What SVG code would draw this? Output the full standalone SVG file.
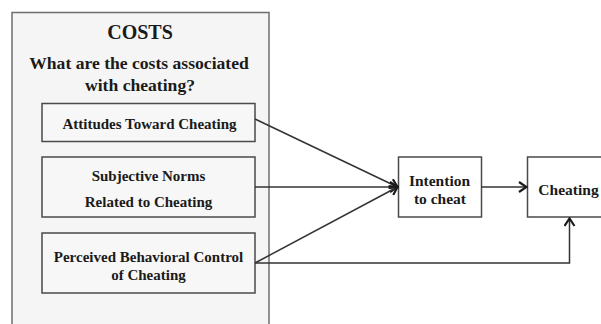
<svg xmlns="http://www.w3.org/2000/svg" width="601" height="324" viewBox="0 0 601 324">
  <style>
    .outer { fill: #f5f5f5; stroke: #6e6e6e; stroke-width: 1.5; }
    .box { fill: #f7f7f7; stroke: #4a4a4a; stroke-width: 1.5; }
    .wbox { fill: #ffffff; stroke: #4a4a4a; stroke-width: 1.5; }
    .t { font-family: "Liberation Serif", "Times New Roman", serif; font-weight: bold; fill: #1a1a1a; text-anchor: middle; dominant-baseline: central; }
    .conn { fill: none; stroke: #333333; stroke-width: 1.5; }
  </style>
  <defs>
    <marker id="arrow" viewBox="0 0 12 12" refX="10.5" refY="6" markerWidth="12" markerHeight="12" markerUnits="userSpaceOnUse" orient="auto">
      <path d="M3,1 L10.5,6 L3,11" fill="none" stroke="#1a1a1a" stroke-width="2.2" stroke-linejoin="miter"/>
    </marker>
  </defs>
  <rect width="601" height="324" fill="#ffffff"/>

  <g id="costs">
    <rect class="outer" x="12" y="12.5" width="257" height="320"/>
    <text class="t" x="140" y="31.5" font-size="20">COSTS</text>
    <text class="t" x="139" y="63" font-size="17.6">What are the costs associated</text>
    <text class="t" x="140" y="85" font-size="17.6">with cheating?</text>
  </g>

  <g id="attitudes">
    <rect class="box" x="42" y="103.5" width="213" height="38"/>
    <text class="t" x="149.5" y="124" font-size="15">Attitudes Toward Cheating</text>
  </g>

  <g id="norms">
    <rect class="box" x="42" y="157" width="213" height="60"/>
    <text class="t" x="148.5" y="176" font-size="15">Subjective Norms</text>
    <text class="t" x="148.5" y="202" font-size="15">Related to Cheating</text>
  </g>

  <g id="control">
    <rect class="box" x="42" y="233" width="213" height="60"/>
    <text class="t" x="148.5" y="257" font-size="15">Perceived Behavioral Control</text>
    <text class="t" x="148.5" y="275" font-size="15">of Cheating</text>
  </g>

  <g id="intention">
    <rect class="wbox" x="398.5" y="157" width="83" height="60"/>
    <text class="t" x="439.5" y="180" font-size="15.5">Intention</text>
    <text class="t" x="440" y="198" font-size="15.5">to cheat</text>
  </g>

  <g id="cheating">
    <rect class="wbox" x="527.5" y="157" width="80" height="60"/>
    <text class="t" x="568.5" y="189" font-size="15.5">Cheating</text>
  </g>

  <g id="connectors">
    <line class="conn" x1="255" y1="119" x2="397.5" y2="187" marker-end="url(#arrow)"/>
    <line class="conn" x1="255" y1="187" x2="397.5" y2="187" marker-end="url(#arrow)"/>
    <line class="conn" x1="255" y1="263" x2="397.5" y2="187" marker-end="url(#arrow)"/>
    <line class="conn" x1="481.5" y1="187" x2="526.5" y2="187" marker-end="url(#arrow)"/>
    <polyline class="conn" points="255,263 569.5,263 569.5,218.5" marker-end="url(#arrow)"/>
  </g>
</svg>
